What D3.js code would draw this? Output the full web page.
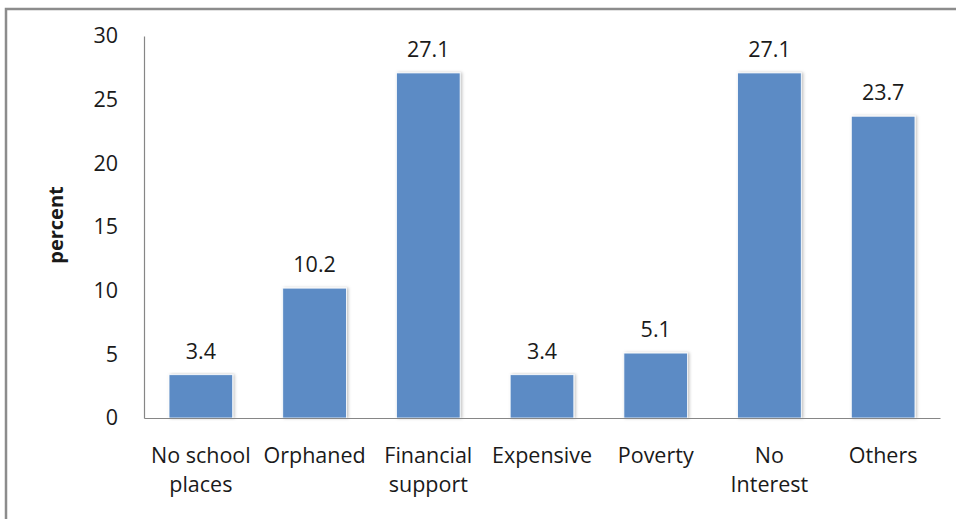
<!DOCTYPE html>
<html>
<head>
<meta charset="utf-8">
<script src="https://cdn.jsdelivr.net/npm/d3@7"></script>
<style>
  html, body { margin: 0; padding: 0; background: #fff; }
  svg { display: block; }
  text { font-family: "Open Sans", sans-serif; fill: #1a1a1a; }
</style>
</head>
<body>
<svg id="chart" width="956" height="519"></svg>
<script>
const categories = ["No school\nplaces", "Orphaned", "Financial\nsupport", "Expensive", "Poverty", "No\nInterest", "Others"];
const values = [3.4, 10.2, 27.1, 3.4, 5.1, 27.1, 23.7];
const yTicks = [0, 5, 10, 15, 20, 25, 30];
const yLabel = "percent";

const FONT = "Open Sans, sans-serif";
const FS = 21.5;

const svg = d3.select("#chart");
const W = 956, H = 519;
const m = { left: 144, right: 16, top: 36, bottom: 101 };
const x0 = m.left, x1 = W - m.right, y0 = m.top, y1 = H - m.bottom;

// outer frame
svg.append("rect")
  .attr("x", 6).attr("y", 9).attr("width", W + 20).attr("height", H + 20)
  .attr("fill", "none").attr("stroke", "#8c8c8c").attr("stroke-width", 2.5);

const defs = svg.append("defs");
const f = defs.append("filter").attr("id", "sh").attr("x", "-20%").attr("y", "-5%").attr("width", "140%").attr("height", "110%");
f.append("feDropShadow").attr("dx", 1.5).attr("dy", 0).attr("stdDeviation", 1.5)
  .attr("flood-color", "#000").attr("flood-opacity", 0.25);

const x = d3.scaleBand().domain(categories).range([x0, x1]).paddingInner(0.44).paddingOuter(0.22);
const y = d3.scaleLinear().domain([0, 30]).range([y1, y0]);

// bars
svg.append("g").selectAll("rect").data(values).join("rect")
  .attr("x", (d, i) => x(categories[i]))
  .attr("y", d => y(d))
  .attr("width", x.bandwidth())
  .attr("height", d => y(0) - y(d))
  .attr("fill", "#5b8bc5")
  .attr("stroke", "#ffffff").attr("stroke-width", 0.8)
  .attr("filter", "url(#sh)");

// value labels
svg.append("g").selectAll("text").data(values).join("text")
  .attr("x", (d, i) => x(categories[i]) + x.bandwidth() / 2)
  .attr("y", d => y(d) - 16)
  .attr("text-anchor", "middle")
  .attr("font-size", FS)
  .text(d => d.toFixed(1));

// y axis
const yAxis = d3.axisLeft(y).tickValues(yTicks).tickSize(0).tickPadding(26).tickFormat(d3.format("d"));
const gy = svg.append("g").attr("transform", `translate(${x0},0)`).call(yAxis);
gy.select(".domain").attr("stroke", "#868686").attr("stroke-width", 1.2);
gy.selectAll("text").attr("font-size", FS).attr("fill", "#1a1a1a")
  .attr("font-family", FONT);

// x axis
const xAxis = d3.axisBottom(x).tickSize(0).tickFormat("");
const gx = svg.append("g").attr("transform", `translate(0,${y1})`).call(xAxis);
gx.select(".domain").attr("stroke", "#868686").attr("stroke-width", 1.2);

// category labels (multi-line)
const cl = svg.append("g").selectAll("text").data(categories).join("text")
  .attr("text-anchor", "middle")
  .attr("font-size", FS)
  .attr("transform", d => `translate(${x(d) + x.bandwidth() / 2},${y1 + 45})`);
cl.each(function(d) {
  const t = d3.select(this);
  d.split("\n").forEach((line, i) => {
    t.append("tspan").attr("x", 0).attr("y", i * 29).text(line);
  });
});

// y label
svg.append("text")
  .attr("transform", `translate(63,${(y0 + y1) / 2 - 2}) rotate(-90)`)
  .attr("text-anchor", "middle")
  .attr("font-size", 20)
  .attr("font-weight", "bold")
  .text(yLabel);
</script>
</body>
</html>
